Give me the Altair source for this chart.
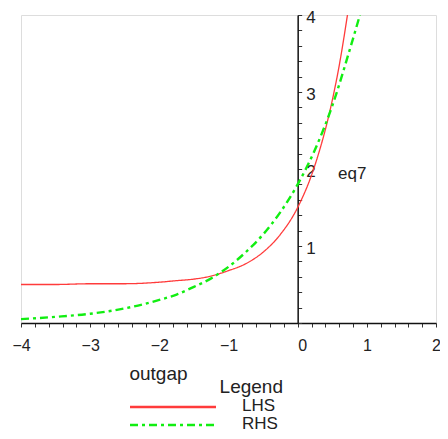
import altair as alt
import pandas as pd

# ---- data ----
lhs_x = [-4, -3.5, -3, -2.5, -2, -1.75, -1.5, -1.25, -1, -0.75, -0.5, -0.25, 0, 0.25, 0.5, 0.6, 0.72]
lhs_y = [0.50, 0.50, 0.51, 0.51, 0.53, 0.55, 0.57, 0.61, 0.68, 0.77, 0.92, 1.15, 1.50, 2.05, 2.89, 3.34, 4.00]
rhs_x = [-4, -3.5, -3, -2.5, -2, -1.75, -1.5, -1.25, -1, -0.75, -0.5, -0.25, 0, 0.25, 0.5, 0.75, 0.9]
rhs_y = [0.05, 0.08, 0.12, 0.19, 0.30, 0.37, 0.47, 0.58, 0.73, 0.92, 1.15, 1.44, 1.80, 2.25, 2.82, 3.54, 4.00]
series_names = ["LHS", "RHS"]
x_title = "outgap"
y_title = "eq7"
legend_title = "Legend"
x_domain = [-4, 2]
y_domain = [0, 4]

df = pd.concat([
    pd.DataFrame({"x": lhs_x, "y": lhs_y, "series": series_names[0]}),
    pd.DataFrame({"x": rhs_x, "y": rhs_y, "series": series_names[1]}),
])
leg_df = pd.DataFrame({"series": series_names})
title_df = pd.DataFrame({"t": [legend_title]})

FONT = "Liberation Sans"
TXT = "#222"
W, H = 415, 308
x_ticks = [round(-4 + 0.2 * i, 1) for i in range(31)]
y_ticks = [round(0.2 * i, 1) for i in range(21)]
x0_px = W * (0 - x_domain[0]) / (x_domain[1] - x_domain[0])
yaxis_offset = -(W - x0_px)

is_int = "abs(datum.value - round(datum.value)) < 1e-6"

color_scale = alt.Scale(domain=series_names, range=["#ff3b3b", "#11ee11"])
dash_scale = alt.Scale(domain=series_names, range=[[1, 0], [8, 4, 3, 4]])

lines = alt.Chart(df).mark_line(clip=True, interpolate="monotone").encode(
    x=alt.X("x:Q", scale=alt.Scale(domain=x_domain, nice=False, zero=False),
            axis=alt.Axis(values=x_ticks, grid=False, title=x_title,
                          labelExpr=f"{is_int} ? format(datum.value, 'd') : ''",
                          labelAlign={"condition": {"test": "datum.value == 0", "value": "left"}, "value": "center"},
                          labelFont=FONT, labelFontSize=16, labelColor=TXT, labelPadding=10,
                          labelFlush=False, labelOverlap=False,
                          tickSize=4, tickColor="#333", domainColor="#111", domainWidth=1.5,
                          titleFont=FONT, titleFontSize=19, titleFontWeight="normal", titleColor=TXT,
                          titleX=137, titleY=50, titleAlign="center", titleBaseline="middle")),
    y=alt.Y("y:Q", scale=alt.Scale(domain=y_domain, nice=False),
            axis=alt.Axis(orient="right", offset=yaxis_offset, values=y_ticks, grid=False, title=y_title,
                          labelExpr=f"{is_int} && datum.value != 0 ? format(datum.value, 'd') : ''",
                          labelFont=FONT, labelFontSize=17, labelColor=TXT, labelPadding=4,
                          labelOffset=2, labelFlush=False, labelOverlap=False,
                          tickSize=4, tickColor="#333", domainColor="#111", domainWidth=1.5,
                          titleFont=FONT, titleFontSize=17, titleFontWeight="normal", titleColor=TXT,
                          titleAngle=0, titleX=54, titleY=158, titleAlign="center", titleBaseline="middle")),
    color=alt.Color("series:N", scale=color_scale, legend=None),
    strokeDash=alt.StrokeDash("series:N", scale=dash_scale, legend=None),
    strokeWidth=alt.StrokeWidth("series:N", scale=alt.Scale(domain=series_names, range=[1.3, 2.4]), legend=None),
)

# ---- hand-drawn legend (Maple style, below the plot) ----
legend_rows = [(series_names[0], 391), (series_names[1], 409)]
legend_layers = []
for name, ypix in legend_rows:
    base = alt.Chart(leg_df).transform_filter(alt.datum.series == name)
    legend_layers.append(
        base.mark_rule(clip=False, strokeWidth=2.6).encode(
            x=alt.value(109), x2=alt.value(195), y=alt.value(ypix + 1),
            color=alt.Color("series:N", scale=color_scale, legend=None),
            strokeDash=alt.StrokeDash("series:N", scale=dash_scale, legend=None),
        )
    )
    legend_layers.append(
        base.mark_text(clip=False, align="left", baseline="middle", font=FONT, fontSize=17, color=TXT).encode(
            x=alt.value(221), y=alt.value(ypix), text="series:N",
        )
    )
legend_layers.append(
    alt.Chart(title_df).mark_text(clip=False, align="right", baseline="middle", font=FONT, fontSize=19, color=TXT).encode(
        x=alt.value(262), y=alt.value(372), text="t:N",
    )
)

chart = alt.layer(lines, *legend_layers).properties(
    width=W, height=H, autosize="none",
    padding={"left": 13, "top": 7, "right": 4, "bottom": 115},
).configure_view(stroke=None).configure(background="white")

chart.save("out.html", embed_options={"renderer": "svg", "actions": False})
